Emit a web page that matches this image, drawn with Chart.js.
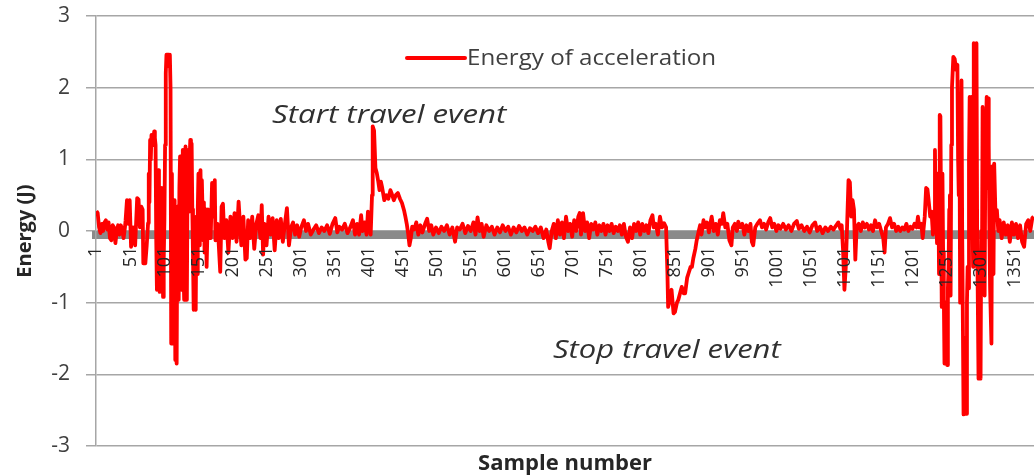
<!DOCTYPE html>
<html>
<head>
<meta charset="utf-8">
<script src="https://cdn.jsdelivr.net/npm/chart.js@4/dist/chart.umd.min.js"></script>
<style>
html,body{margin:0;padding:0;background:#fff;}
#wrap{width:1034px;height:475px;}
</style>
</head>
<body>
<div id="wrap"><canvas id="c" width="1034" height="475"></canvas></div>
<script>
const seriesLabel = 'Energy of acceleration';
const samples = [
1,3,5,7,9,11,13,15,17,19,21,23,25,27,29,31,33,35,37,39,41,43,
44,46,48,50,52,55,58,61,63,65,67,69,70,73,75,77,78,79,80,81,82,84,86,87,88,89,90,91,92,93,94,95,96,97,98,99,100,101,102,103,104,105,106,107,108,109,110,111,112,113,114,115,116,117,118,119,120,121,122,123,124,125,126,127,128,129,130,131,132,133,134,135,136,137,138,139,140,141,142,143,144,145,146,147,148,149,150,151,152,153,154,155,156,157,158,159,160,161,162,163,164,165,166,169,171,173,175,176,179,181,183,185,
187,189,192,195,198,201,204,207,210,212,214,217,220,222,224,227,230,233,236,239,242,244,246,248,251,254,257,260,263,266,269,272,275,278,281,284,287,290,293,296,299,302,306,309,312,316,320,324,328,332,336,340,344,348,352,355,358,362,366,370,374,378,381,384,387,390,392,395,398,400,402,404,
406,407,409,411,413,415,417,419,421,424,427,430,433,435,438,441,444,447,450,453,455,457,459,461,463,465,
468,471,474,477,480,484,487,490,493,496,500,504,508,512,516,520,524,528,531,535,539,543,547,551,555,558,561,564,567,570,574,578,582,586,590,594,598,602,606,610,614,618,622,626,630,634,638,642,646,650,654,658,662,665,667,670,673,676,679,682,685,688,691,694,697,700,703,706,709,711,713,716,719,722,725,728,731,734,737,740,743,746,749,752,755,758,761,764,767,770,773,776,779,782,785,788,791,794,797,800,803,806,809,812,815,818,820,823,826,829,832,835,838,
840,841,844,846,849,851,854,856,859,861,864,866,869,871,874,876,878,881,883,886,
888,890,893,895,898,901,903,905,908,911,914,917,920,922,925,928,931,934,936,939,942,944,947,950,953,956,959,962,964,966,969,972,976,979,982,985,988,991,994,997,1000,
1003,1006,1010,1014,1018,1022,1026,1030,1033,1037,1041,1045,1049,1053,1057,1060,1064,1068,1072,1076,1080,1084,1088,1091,1094,1096,1098,1100,1102,1104,1106,1108,1110,1112,1114,1116,1118,1121,1124,1127,1130,1133,1136,1139,1142,1145,1148,1151,1154,1157,1159,1161,1164,1167,1170,1173,1176,1179,1182,1185,1188,1191,1194,1197,1200,1203,1206,1208,1210,1213,1215,1218,
1220,1222,1224,1226,1228,1230,1232,1233,1234,1235,1236,1237,1238,1239,1240,1241,1242,1243,1244,1245,1246,1247,1249,1251,1252,1253,1254,1255,1256,1257,1258,1260,1262,1264,1266,1267,1268,1269,1270,1271,1272,1273,1275,1277,1279,1280,1281,1282,1283,1284,1286,1287,1288,1289,1290,1292,1294,1295,1297,1298,1300,1301,1302,1303,1304,1305,1306,1307,1309,1310,1311,1312,1313,1314,1316,1317,1318,1319,1320,
1322,1324,1326,1328,1331,1334,1337,1340,1343,1346,1349,1352,1355,1358,1361,1364,1367,1370,1373,1376,1378
];
const energy = [
0.28,0.25,0.05,-0.03,0.1,0.0,0.12,0.15,0.02,0.12,-0.1,-0.13,0.08,0.05,-0.17,0.0,0.08,-0.05,0.08,0.02,-0.1,0.05,
0.15,0.43,0.1,0.43,-0.22,0.05,-0.2,0.46,0.44,0.05,0.34,0.3,-0.45,-0.45,-0.2,0.11,0.8,0.4,1.27,1.0,1.34,1.2,1.39,1.3,1.2,-0.13,-0.82,0.3,0.85,0.1,-0.85,0.2,-0.5,0.6,0.1,-0.92,-0.4,0.15,1.2,2.2,2.46,2.46,2.3,2.46,2.4,2.46,2.0,-1.57,0.8,-1.57,0.4,-1.0,0.43,-1.8,-1.6,-1.85,0.34,-0.5,-0.96,0.6,1.04,-0.3,-0.82,0.9,1.13,-0.5,-0.96,0.7,1.18,-0.2,-0.96,0.8,1.13,0.27,1.0,1.27,0.5,1.22,0.3,-0.36,-1.1,-0.4,-1.05,-1.1,0.2,-0.6,0.3,0.8,-0.2,0.6,0.85,0.2,0.71,0.3,-0.13,0.4,-0.3,0.1,0.3,-0.5,-0.1,0.3,0.15,-0.1,0.67,0.2,0.71,-0.13,0.1,-0.22,-0.57,0.34,
0.38,-0.1,0.15,-0.3,0.2,-0.1,0.25,-0.15,0.41,0.1,-0.2,0.2,-0.4,-0.38,0.15,-0.1,0.2,-0.25,0.1,0.22,-0.1,0.36,-0.33,0.1,-0.2,0.2,-0.05,0.18,-0.27,0.15,-0.1,0.17,-0.15,0.1,0.32,-0.2,0.05,0.12,-0.05,0.08,-0.08,0.05,0.15,0.0,0.1,-0.05,0.02,0.08,-0.03,0.05,0.0,0.08,-0.04,0.1,0.18,-0.02,0.06,0.02,0.1,-0.03,0.05,0.15,-0.05,0.1,-0.05,0.22,0.0,0.12,-0.05,0.27,0.1,-0.05,
0.5,1.46,1.4,0.88,0.81,0.7,0.57,0.69,0.6,0.43,0.5,0.45,0.57,0.52,0.43,0.5,0.53,0.45,0.39,0.29,0.2,0.1,-0.03,-0.2,-0.1,0.06,
0.02,0.12,-0.05,0.08,-0.02,0.1,0.17,0.0,0.08,-0.05,0.05,-0.03,0.06,0.0,0.08,-0.05,0.05,-0.15,0.05,0.02,0.1,-0.03,0.07,0.0,0.12,-0.05,0.19,0.0,0.1,-0.08,0.08,0.0,0.06,-0.05,0.05,-0.02,0.08,0.0,0.06,-0.05,0.05,-0.02,0.07,0.0,0.05,-0.05,0.04,0.0,0.06,-0.03,0.05,-0.1,0.02,-0.15,-0.24,0.0,0.1,-0.1,0.15,-0.05,0.12,-0.1,0.2,0.0,0.1,-0.08,0.15,0.0,0.2,0.25,-0.05,0.25,0.0,0.12,-0.1,0.1,0.02,0.12,-0.05,0.08,0.0,0.1,-0.05,0.08,0.0,0.1,-0.03,0.06,0.0,0.08,-0.05,0.1,-0.08,-0.15,0.05,-0.1,0.1,0.0,0.12,-0.05,0.1,0.0,0.08,-0.03,0.15,0.22,0.05,0.1,-0.05,0.2,0.05,0.11,0.05,
-0.6,-1.06,-0.95,-0.82,-1.15,-1.13,-1.0,-0.96,-0.85,-0.78,-0.87,-0.87,-0.65,-0.59,-0.5,-0.5,-0.38,-0.25,-0.13,0.0,
0.08,-0.05,0.15,0.05,0.12,-0.02,0.1,0.2,0.0,0.1,-0.05,0.15,0.1,0.25,0.05,0.1,-0.13,-0.2,0.05,0.1,0.0,0.13,0.05,0.1,-0.05,0.08,0.0,0.1,-0.15,-0.2,0.05,0.1,0.15,0.05,0.1,0.02,0.12,0.18,0.05,0.1,0.0,
0.08,0.03,0.1,0.02,0.08,0.0,0.1,0.14,0.03,0.08,0.0,0.06,-0.02,0.08,0.12,0.0,0.06,-0.03,0.05,0.0,0.06,0.02,0.08,0.12,0.03,0.08,-0.27,-0.82,-0.5,0.1,0.71,0.68,0.2,0.43,0.3,-0.4,0.06,0.1,0.0,0.12,0.05,0.1,0.02,0.08,0.0,0.15,0.05,0.1,0.0,-0.1,-0.3,0.05,0.1,0.18,0.05,0.1,0.0,0.06,0.0,0.05,0.02,0.1,0.0,0.06,0.03,0.1,0.05,0.2,0.05,0.1,-0.1,0.2,
0.6,0.58,0.4,0.2,0.27,-0.05,0.2,1.13,0.2,0.3,-0.17,0.8,0.5,-0.6,1.62,1.6,0.2,-1.06,0.8,-0.3,-0.9,-1.85,-1.0,-1.87,-0.8,-0.5,0.3,0.5,-0.9,1.2,2.0,2.43,2.4,2.25,2.32,1.0,0.5,1.5,-1.0,0.5,2.1,0.0,-2.56,-1.5,-2.55,-1.0,-0.5,-0.8,1.0,1.87,0.8,1.87,0.5,-0.5,2.62,1.0,2.62,0.0,-2.06,-1.0,-2.06,0.0,-0.6,1.73,0.5,0.2,-0.9,1.0,1.87,0.6,1.85,1.2,0.0,-0.8,-1.57,0.9,-0.5,-0.6,0.94,
0.2,0.29,0.0,0.15,-0.1,0.12,-0.05,0.08,-0.15,0.12,-0.05,0.1,-0.1,0.08,-0.15,-0.22,0.1,0.15,0.0,0.18,0.2
];
const xTickValues = [1,51,101,151,201,251,301,351,401,451,501,551,601,651,701,751,801,851,901,951,1001,1051,1101,1151,1201,1251,1301,1351];
const xTickLabels = ['1','51','101','151','201','251','301','351','401','451','501','551','601','651','701','751','801','851','901','951','1001','1051','1101','1151','1201','1251','1301','1351'];
const yTickValues = [-3,-2,-1,0,1,2,3];
const xTitle = 'Sample number';
const yTitle = 'Energy (J)';
const notes = ['Start travel event', 'Stop travel event'];

const points = samples.map((s, i) => ({x: s, y: energy[i]}));
const FONT = "'Open Sans', sans-serif";

function stretchedText(ctx, text, x, y, sx) {
  ctx.save();
  ctx.translate(x, y);
  ctx.scale(sx, 1);
  ctx.fillText(text, 0, 0);
  ctx.restore();
}

const decorPlugin = {
  id: 'decor',
  afterDraw(chart) {
    const ctx = chart.ctx;
    ctx.save();
    ctx.strokeStyle = '#ff0000';
    ctx.lineWidth = 4;
    ctx.lineCap = 'round';
    ctx.beginPath();
    ctx.moveTo(407, 58);
    ctx.lineTo(465, 58);
    ctx.stroke();
    ctx.fillStyle = '#404040';
    ctx.font = "21px " + FONT;
    ctx.textBaseline = 'alphabetic';
    ctx.textAlign = 'left';
    stretchedText(ctx, seriesLabel, 467, 65, 1.15);
    ctx.font = "italic 26px " + FONT;
    ctx.fillStyle = '#303030';
    stretchedText(ctx, notes[0], 272, 123, 1.2);
    stretchedText(ctx, notes[1], 553, 358, 1.19);
    ctx.restore();
  }
};

new Chart(document.getElementById('c'), {
  type: 'line',
  data: {
    datasets: [{
      label: seriesLabel,
      data: points,
      borderColor: '#ff0000',
      borderWidth: 3.8,
      pointRadius: 0,
      tension: 0,
      fill: false,
      borderJoinStyle: 'round'
    }]
  },
  options: {
    responsive: false,
    animation: false,
    layout: {autoPadding: false, padding: {top: 16, right: 0, bottom: 0, left: 0}},
    plugins: {
      legend: {display: false},
      tooltip: {enabled: false},
      title: {
        display: true, text: xTitle, position: 'bottom', fullSize: false,
        color: '#262626', font: {family: FONT, size: 22, weight: 'bold', lineHeight: 1.0},
        padding: {top: 7, bottom: 0}
      }
    },
    scales: {
      x: {
        type: 'linear', min: 0.5, max: 1378.5,
        position: {y: -0.05},
        afterBuildTicks: (scale) => { scale.ticks = xTickValues.map(v => ({value: v})); },
        afterFit: (scale) => { scale.paddingLeft = 0; scale.paddingRight = 0; scale.paddingTop = 0; scale.paddingBottom = 0; },
        ticks: {
          z: 1,
          autoSkip: false, minRotation: 90, maxRotation: 90, padding: 12,
          color: '#262626', font: {family: FONT, size: 18},
          callback: (v) => { const i = xTickValues.indexOf(v); return i >= 0 ? xTickLabels[i] : ''; }
        },
        grid: {display: false, drawTicks: false},
        border: {display: true, color: '#8a8a8a', width: 8}
      },
      y: {
        min: -3, max: 3,
        afterBuildTicks: (scale) => { scale.ticks = yTickValues.map(v => ({value: v})); },
        afterFit: (scale) => { scale.width = 96; scale.paddingTop = 0; scale.paddingBottom = 0; },
        ticks: {padding: 16, color: '#404040', font: {family: FONT, size: 21}},
        grid: {color: '#a6a6a6', lineWidth: 1.5, tickLength: 10, drawTicks: true},
        border: {color: '#a6a6a6', width: 1.5},
        title: {display: true, text: yTitle, color: '#262626', font: {family: FONT, size: 20, weight: 'bold'}, padding: {top: 13, bottom: 0}}
      }
    }
  },
  plugins: [decorPlugin]
});
</script>
</body>
</html>
